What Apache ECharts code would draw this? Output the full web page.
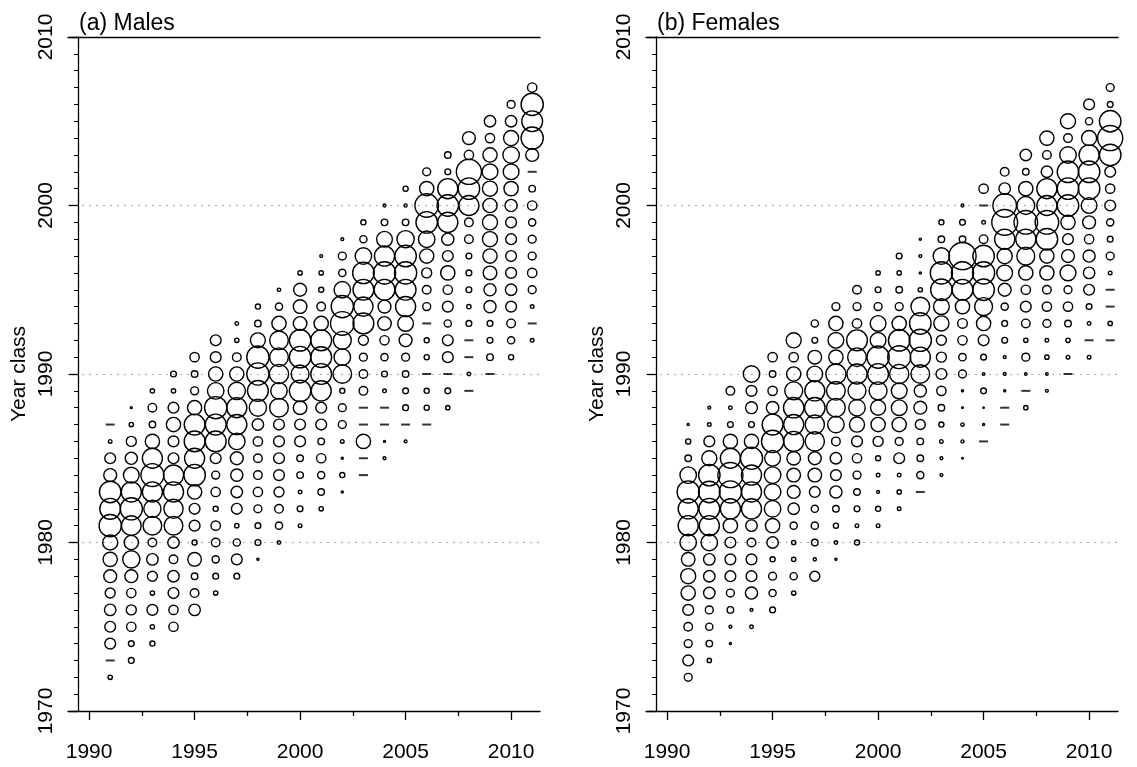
<!DOCTYPE html>
<html>
<head>
<meta charset="utf-8">
<script src="https://cdn.jsdelivr.net/npm/echarts@6/dist/echarts.min.js"></script>
<style>
html, body { margin: 0; padding: 0; background: #fff; }
#chart { width: 1137px; height: 767px; }
</style>
</head>
<body>
<div id="chart"></div>
<script>
// sampling years (columns); each column holds year classes year-19 .. year-4
var years = [1991, 1992, 1993, 1994, 1995, 1996, 1997, 1998, 1999, 2000, 2001,
  2002, 2003, 2004, 2005, 2006, 2007, 2008, 2009, 2010, 2011]
var oldestAge = 19

// proportions at age, one row per sampling year (0 = drawn as a dash)
var males = [
  [1.0, 0, 6.3, 6.3, 7.1, 5.4, 9, 11, 12.3, 26.7, 23.4, 25, 9, 6.3, 0.7, 0],
  [1.8, 1.8, 4.7, 5.4, 4.7, 9, 16, 11, 21, 26.7, 21.8, 13.4, 8, 5.4, 1.0, 0.2],
  [1.4, 1.0, 6.3, 1.0, 5.4, 7.1, 4, 18.8, 16, 21.8, 28.4, 21.8, 11, 2.3, 4, 1.0],
  [4.7, 4.7, 6.3, 7.1, 4, 7.1, 18.8, 20, 21.8, 21.8, 6.3, 6.3, 11, 6.3, 1.0, 1.8],
  [7.1, 4, 2.3, 10, 1.4, 6.3, 6.3, 11, 25, 21.8, 23.4, 23.4, 11, 3.4, 2.3, 4.7],
  [1.0, 1.8, 2.8, 4, 4.7, 1.4, 4.7, 3.4, 6.3, 23.4, 23.4, 26.7, 14.7, 11, 6.3, 6.3],
  [1.8, 6.3, 2.8, 1.0, 6.3, 7.1, 8, 9, 14.7, 21.8, 21.8, 16, 11, 4, 1.0, 0.7],
  [0.25, 1.8, 1.8, 3.4, 4.7, 4, 4, 4.7, 7.1, 16, 23.4, 26.7, 26.7, 12, 2.3, 1.4],
  [0.7, 2.8, 4, 5.4, 6.3, 6.3, 6.3, 6.3, 18.8, 14.7, 20, 18.8, 18.8, 11, 2.8, 0.6],
  [0.7, 1.8, 0.7, 2.3, 2.3, 6.3, 6.3, 10, 25, 17.4, 25, 25, 10, 10, 9, 1.0],
  [1.0, 2.3, 2.8, 4.7, 2.3, 6.3, 6.3, 21.8, 23.4, 23.4, 23.4, 11, 4, 1.4, 1.0, 0.45],
  [0.25, 1.4, 0.25, 0.7, 3.4, 3.4, 1.4, 18.8, 14.7, 17.4, 30, 26.7, 14.7, 2.8, 3.4, 0.45],
  [0, 0, 11, 0, 0, 4, 4, 3.4, 5.4, 23.4, 20, 23.4, 25, 14.7, 2.8, 1.4],
  [0.45, 0.2, 0, 0, 0.7, 1.8, 2.8, 4.7, 10, 9, 23.4, 26.7, 21.8, 13.4, 2.3, 0.45],
  [0.45, 0, 1.8, 1.8, 2.3, 3.4, 9, 13.4, 21.8, 23.4, 26.7, 25, 16, 2.3, 0.55, 1.4],
  [0, 1.4, 1.4, 0, 1.4, 1.4, 0, 3.4, 4, 5.4, 11, 14.7, 25, 30, 11, 3.4],
  [1.0, 1.8, 0, 6.3, 6.3, 2.8, 6.3, 4.7, 11, 6.3, 8, 21.8, 25, 21.8, 1.8, 2.3],
  [0, 0.7, 0, 0, 1.8, 1.0, 1.8, 1.8, 1.8, 4, 4, 21.8, 25, 34, 4.7, 9],
  [0, 2.3, 1.8, 1.8, 8, 8, 10, 11, 12.3, 12.3, 11, 12.3, 13.4, 11, 4.7, 7.1],
  [1.4, 2.8, 4, 6.3, 7.1, 6.3, 6.3, 6.3, 6.3, 8, 11, 13.4, 14.7, 12.3, 7.1, 3.4],
  [0.7, 0, 0.7, 3.4, 4.7, 3.4, 3.4, 2.8, 4.7, 2.3, 0, 9, 26.7, 23.4, 26.7, 4.7]
]

var females = [
  [3.4, 6.3, 3.4, 4, 6.3, 11, 12.3, 10, 14.7, 21.8, 21.8, 26.7, 14.7, 2.3, 1.4, 0.25],
  [1.0, 2.3, 2.8, 3.4, 7.1, 7.1, 7.1, 14.7, 21.8, 23.4, 25, 25, 12.3, 6.3, 0.7, 0.45],
  [0.25, 0.45, 2.3, 3.4, 6.3, 6.3, 6.3, 11, 21.8, 26.7, 34, 21.8, 11, 1.8, 0.7, 4],
  [0.7, 0.45, 8, 6.3, 6.3, 4, 7.1, 21.8, 21.8, 21.8, 26.7, 11, 1.8, 7.6, 6.3, 14.7],
  [1.8, 2.8, 3.4, 1.4, 7.1, 11, 14.7, 14.7, 14.7, 13.4, 26.7, 23.4, 8.5, 4.7, 2.3, 4.7],
  [1.0, 2.8, 1.0, 1.0, 2.8, 7.1, 9, 10, 10, 21.8, 21.8, 22.6, 17.4, 11, 4.7, 12.3],
  [5.4, 0.55, 2.3, 2.8, 2.8, 6.3, 10, 9, 20, 20, 22.6, 21.8, 13.4, 10, 1.8, 2.8],
  [0.25, 0.7, 1.4, 2.3, 8, 6.3, 7.1, 4, 14.7, 18.8, 18.8, 21.8, 11, 13.4, 11, 3.4],
  [1.4, 0.7, 1.8, 2.3, 3.4, 4.7, 6.3, 12.3, 14.7, 17.4, 21.8, 18.8, 23.4, 4.7, 3.4, 4],
  [0.7, 1.4, 0.45, 0.7, 1.4, 5.4, 11, 12.3, 17.4, 23.4, 26.7, 13.4, 13.4, 3.4, 1.8, 1.0],
  [0.7, 1.0, 0.7, 6.3, 3.4, 11, 13.4, 13.4, 20, 28.4, 25, 11, 3.4, 2.3, 1.0, 1.8],
  [0, 2.8, 2.3, 2.3, 5.4, 9, 8, 18.8, 21.8, 26.7, 25, 18.8, 1.0, 0.25, 0.45, 0.25],
  [0.45, 0.45, 0.7, 1.4, 2.3, 4.7, 6.3, 5.4, 5.4, 12.3, 13.4, 25, 26.7, 14.7, 2.3, 1.4],
  [0.15, 0.5, 0.6, 0.15, 0.25, 3.4, 3, 4.7, 5, 11, 23.4, 26.7, 40, 2.3, 1.8, 0.45],
  [0, 0.25, 0.1, 1.8, 0.35, 1.8, 6.3, 11, 17.4, 25, 26.7, 25, 4, 0.7, 0, 4.7],
  [0, 0, 0.25, 0.45, 0.45, 1.8, 1.8, 2.8, 9, 13.4, 12.3, 21.8, 36, 30, 7.1, 4],
  [1.0, 0, 0.35, 3.4, 1.0, 4, 6.3, 4.7, 11, 17.4, 21.8, 30, 17.4, 11, 2.3, 7.1],
  [0.45, 0.35, 1.0, 0.7, 3.4, 4.7, 4, 11, 11, 25, 30, 21.8, 21.8, 7.1, 4, 11],
  [0, 0.7, 1.0, 2.3, 4.7, 3.4, 13.4, 9, 6.3, 11, 25, 25, 25, 14.7, 4, 12.3],
  [0.7, 0, 0.7, 1.8, 6.3, 7.1, 8, 4.7, 9, 13.4, 25, 25, 21.8, 12.3, 2.8, 6.3],
  [0, 1.0, 0, 0, 0.7, 3.4, 1.8, 2.8, 6.3, 4.7, 6.3, 25, 34, 25, 1.8, 3.4]
]

var xLabels = [1990, 1995, 2000, 2005, 2010]
var xMinorTicks = [1992.5, 1997.5, 2002.5, 2007.5]
var panelTitles = ['(a) Males', '(b) Females']

var FONT = 'Liberation Sans, Arial, sans-serif'

function splitTable(table) {
  var pts = [], dashes = []
  table.forEach(function (col, i) {
    col.forEach(function (v, j) {
      var yc = years[i] - oldestAge + j
      if (v === 0) dashes.push([years[i], yc])
      else pts.push([years[i], yc, v])
    })
  })
  return { pts: pts, dashes: dashes }
}

var dom = document.getElementById('chart')
var myChart = echarts.init(dom)

var panels = [males, females]
var gridLefts = [68, 646]
var grid = [], xAxis = [], yAxis = [], series = [], title = []

panels.forEach(function (table, p) {
  var d = splitTable(table)
  grid.push({
    left: gridLefts[p], top: 37, width: 472, height: 674,
    containLabel: false, outerBoundsMode: 'none'
  })
  title.push({
    text: panelTitles[p],
    left: gridLefts[p] + 6,
    top: 7,
    textStyle: { fontFamily: FONT, fontWeight: 'normal', fontSize: 23, color: '#000' }
  })
  // bottom axis with labels
  xAxis.push({
    type: 'value', gridIndex: p, min: 1989, max: 2011.37, position: 'bottom',
    axisLine: { show: true, lineStyle: { color: '#000', width: 1.3 } },
    axisTick: { show: true, length: 9, customValues: xLabels, lineStyle: { color: '#000', width: 1.3 } },
    axisLabel: {
      show: true, customValues: xLabels, margin: 31, fontSize: 21, fontFamily: FONT, color: '#000',
      formatter: function (v) { return String(v) }
    },
    splitLine: { show: false }
  })
  // minor ticks
  xAxis.push({
    type: 'value', gridIndex: p, min: 1989, max: 2011.37, position: 'bottom',
    axisLine: { show: false },
    axisTick: { show: true, length: 5, customValues: xMinorTicks, lineStyle: { color: '#000', width: 1.3 } },
    axisLabel: { show: false },
    splitLine: { show: false }
  })
  // top frame line
  xAxis.push({
    type: 'value', gridIndex: p, min: 1989, max: 2011.37, position: 'top',
    axisLine: { show: true, lineStyle: { color: '#000', width: 1.3 } },
    axisTick: { show: false }, axisLabel: { show: false }, splitLine: { show: false }
  })
  yAxis.push({
    type: 'value', gridIndex: p, min: 1970, max: 2010, interval: 10, offset: -10,
    name: 'Year class', nameLocation: 'middle', nameGap: 48, nameRotate: 90,
    nameTextStyle: { fontFamily: FONT, fontSize: 21, color: '#000' },
    axisLine: { show: true, lineStyle: { color: '#000', width: 1.3 } },
    axisTick: { show: true, length: 9, lineStyle: { color: '#000', width: 1.3 } },
    minorTick: { show: true, splitNumber: 10, length: 4, lineStyle: { color: '#000', width: 1 } },
    axisLabel: {
      rotate: 90, margin: 21, fontSize: 21, fontFamily: FONT, color: '#000',
      formatter: function (v) { return String(v) }
    },
    splitLine: {
      show: true, showMinLine: false, showMaxLine: false,
      lineStyle: { color: '#aaa', type: [2, 5], width: 1 }
    }
  })
  series.push({
    type: 'scatter', xAxisIndex: p * 3, yAxisIndex: p,
    symbol: 'circle',
    symbolSize: function (v) { return 4.3 * Math.sqrt(v[2]) },
    itemStyle: { color: 'rgba(0,0,0,0)', borderColor: '#000', borderWidth: 1.4, opacity: 1 },
    data: d.pts, silent: true, animation: false
  })
  series.push({
    type: 'scatter', xAxisIndex: p * 3, yAxisIndex: p,
    symbol: 'rect', symbolSize: [9, 2],
    itemStyle: { color: '#000' },
    data: d.dashes, silent: true, animation: false
  })
})

var option = {
  backgroundColor: '#fff',
  animation: false,
  title: title,
  grid: grid,
  xAxis: xAxis,
  yAxis: yAxis,
  series: series
}
myChart.setOption(option, true)
</script>
</body>
</html>
